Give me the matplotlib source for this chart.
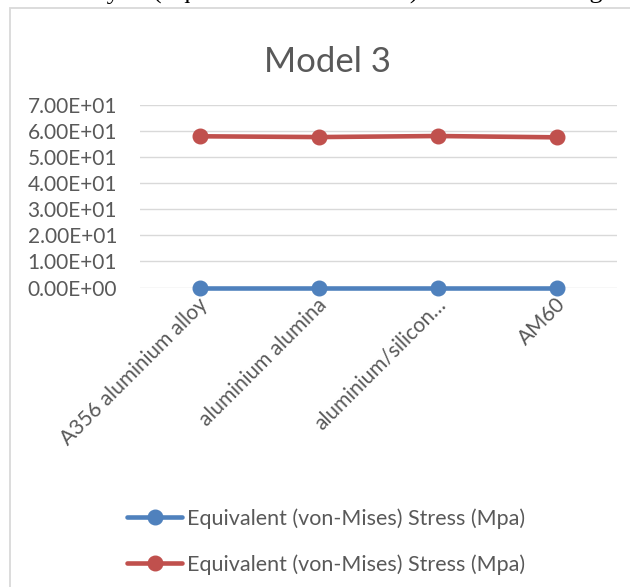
import matplotlib
matplotlib.use("Agg")
import matplotlib.pyplot as plt
from matplotlib.patches import Rectangle
from matplotlib.transforms import ScaledTranslation
from matplotlib.ticker import FuncFormatter

categories = ["A356 aluminium alloy", "aluminium alumina", "aluminium/silicon\u2026", "AM60"]
series_names = ["Equivalent (von-Mises) Stress (Mpa)", "Equivalent (von-Mises) Stress (Mpa)"]
stress_blue = [0.0, 0.0, 0.0, 0.0]
stress_red = [58.0, 57.7, 58.1, 57.6]
y_ticks = [0, 10, 20, 30, 40, 50, 60, 70]
title = "Model 3"
caption_left = "Structural analysis "
caption_right = "(Equivalent elastic strain) of Model 3 using different materials"

GRAY = "#595959"
FONT = "Lato"

fig = plt.figure(figsize=(6.3, 5.87), dpi=100)
W, H = 630, 587
ax = fig.add_axes([140/W, 1-287.5/H, (617-140)/W, (287.5-105)/H])

x = range(len(categories))
ax.plot(x, stress_blue, color="#4F81BD", lw=3.3, marker="o", ms=10.5, label=series_names[0],
        solid_capstyle="round", clip_on=False, zorder=3)
ax.plot(x, stress_red, color="#C0504D", lw=3.3, marker="o", ms=10.5, label=series_names[1],
        solid_capstyle="round", clip_on=False, zorder=3)

ax.set_xlim(-0.5, len(categories)-0.5)
ax.set_ylim(y_ticks[0], y_ticks[-1])
ax.set_yticks(y_ticks)
ax.yaxis.set_major_formatter(FuncFormatter(lambda v, p: "%.2E" % v))
ax.grid(axis="y", color="#D9D9D9", lw=1)
ax.set_axisbelow(True)
for s in ax.spines.values():
    s.set_visible(False)
ax.tick_params(axis="y", length=0, pad=16.5, labelsize=15, labelcolor=GRAY)
ax.tick_params(axis="x", length=0, pad=10, labelsize=15, labelcolor=GRAY)
for t in ax.get_yticklabels():
    t.set_fontfamily(FONT)
ax.set_xticks(list(x))
ax.set_xticklabels(categories, rotation=45, ha="right", va="center",
                   rotation_mode="anchor", fontfamily=FONT)
for t in ax.get_xticklabels():
    t.set_transform(t.get_transform() + ScaledTranslation(5/100, 0, fig.dpi_scale_trans))

fig.text(328/W, 1-72/H, title, ha="center", va="baseline", fontsize=25,
         color=GRAY, fontfamily=FONT)

fig.legend(loc="upper left", bbox_to_anchor=(127/W, 1-508/H), frameon=False,
           borderpad=0, borderaxespad=0, handlelength=2.56, handletextpad=0.23,
           labelspacing=1.2, prop={"family": FONT, "size": 15.5}, labelcolor=GRAY)

# chart area border (runs past right/bottom edge in the reference crop)
fig.patches.append(Rectangle((9.5/W, -0.1), 1.2, 1.1-7.5/H, transform=fig.transFigure,
                             fill=False, edgecolor="#D9D9D9", lw=1.3))

# cut-off caption line at top of the page
fig.text(153/W, 1+1/H, caption_left, ha="right", va="baseline", fontsize=18.6,
         fontfamily="Liberation Serif", color="black")
fig.text(153/W, 1+1/H, caption_right, ha="left", va="baseline", fontsize=18.6,
         fontfamily="Liberation Serif", color="black")

fig.savefig("out.png", dpi=100)
